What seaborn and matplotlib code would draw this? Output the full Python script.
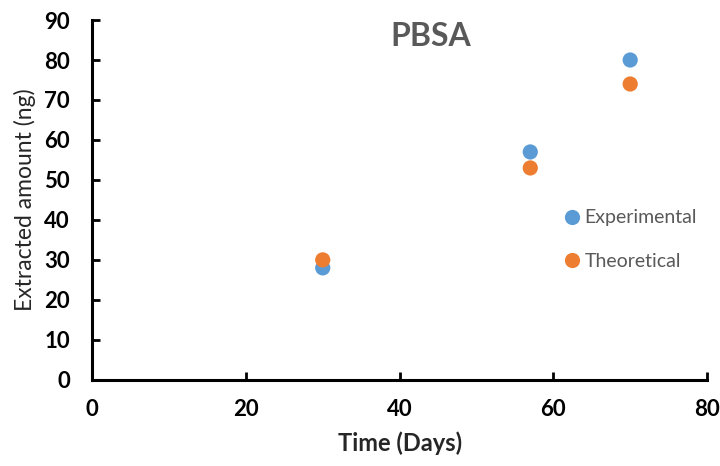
import pandas as pd
import matplotlib.pyplot as plt
import seaborn as sns

# dados
days = [30, 57, 70]
experimental = [28, 57, 80]
theoretical = [30, 53, 74]

df = pd.DataFrame({
    'Time': days + days,
    'Amount': experimental + theoretical,
    'Series': ['Experimental'] * 3 + ['Theoretical'] * 3
})

sns.set_style('white')
plt.rcParams['font.family'] = ['Lato', 'DejaVu Sans']

fig = plt.figure(figsize=(7.2, 4.66), dpi=100)
ax = fig.add_axes([0.128, 0.185, 0.854, 0.772])

sns.scatterplot(
    data=df,
    x='Time',
    y='Amount',
    hue='Series',
    palette={'Experimental': '#5B9BD5', 'Theoretical': '#ED7D31'},
    s=120,
    edgecolor='none',
    ax=ax
)

ax.set_xlim(0, 80)
ax.set_ylim(0, 90)
ax.set_xticks(range(0, 81, 20))
ax.set_yticks(range(0, 91, 10))

for side in ['top', 'right']:
    ax.spines[side].set_visible(False)
for side in ['left', 'bottom']:
    ax.spines[side].set_color('black')
    ax.spines[side].set_linewidth(2.2)

ax.tick_params(direction='in', length=6, width=2, colors='black',
               labelsize=16, left=True, bottom=True)
ax.tick_params(axis='x', pad=14)
ax.tick_params(axis='y', pad=16)
for lab in ax.get_xticklabels() + ax.get_yticklabels():
    lab.set_fontweight('bold')

ax.set_xlabel('Time (Days)', fontsize=17, fontweight='bold', labelpad=8)
ax.set_ylabel('Extracted amount (ng)', fontsize=16.5, labelpad=6)

ax.text(0.55, 0.955, 'PBSA', transform=ax.transAxes, ha='center', va='center',
        fontsize=23, fontweight='bold', color='#595959')

leg = ax.legend(loc='center left', bbox_to_anchor=(0.72, 0.39), frameon=False,
                fontsize=14, handletextpad=-0.35, labelspacing=1.35, markerscale=1.0)
for t in leg.get_texts():
    t.set_color('#595959')

plt.savefig('out.png', dpi=100)
